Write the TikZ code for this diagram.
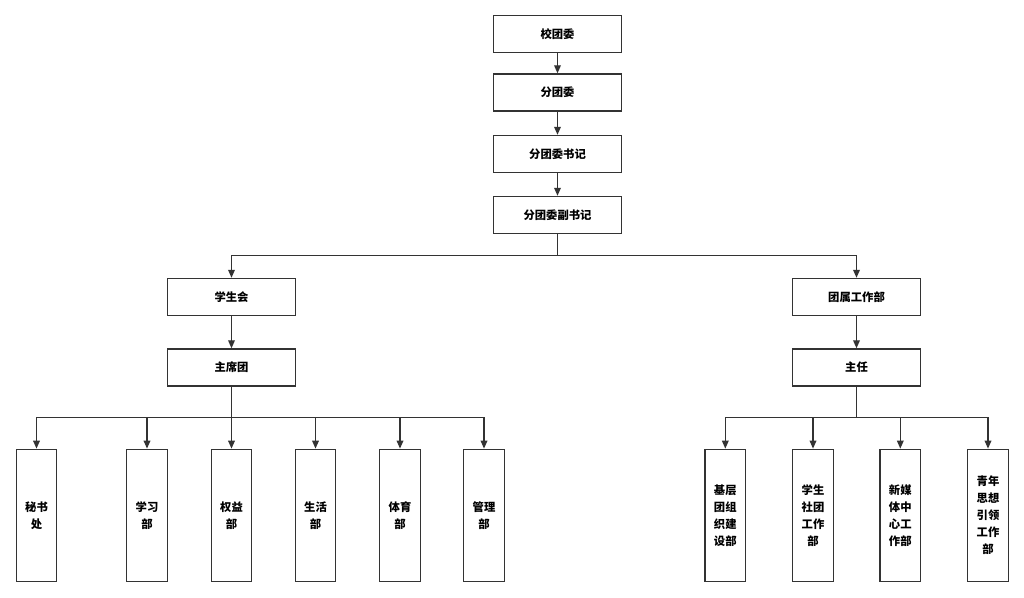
\documentclass[tikz,border=0pt]{standalone}
\usepackage{fontspec}
\setmainfont{Noto Sans CJK SC}
\usetikzlibrary{arrows.meta}

\begin{document}
\begin{tikzpicture}[x=0.75pt, y=-0.75pt,
	every node/.style = {shape=rectangle, draw=black!80, line width=1pt,
		align=center, font=\fontsize{8.5}{12.8}\selectfont\bfseries},
	wide/.style = {minimum width=96.3pt, minimum height=27.8pt},
	tall/.style = {minimum width=30.3pt, minimum height=99.3pt},
	link/.style = {draw=black!80, line width=1pt, -{Triangle[length=6pt,width=5pt]}},
	bus/.style = {draw=black!80, line width=1pt}]
	\useasboundingbox (0,0) rectangle (1024,598);

	\node[wide] (xtw) at (557.5,34.3) {校团委};
	\node[wide] (ftw) at (557.5,92.5) {分团委};
	\node[wide] (sj)  at (557.5,154) {分团委书记};
	\node[wide] (fsj) at (557.5,215) {分团委副书记};

	\node[wide] (xsh) at (231.5,297) {学生会};
	\node[wide] (zxt) at (231.5,367.5) {主席团};
	\node[wide] (tsb) at (856.5,297) {团属工作部};
	\node[wide] (zr)  at (856.5,367.5) {主任};

	\node[tall] (msc) at (36.5,515.5) {秘书\\处};
	\node[tall] (xxb) at (147,515.5) {学习\\部};
	\node[tall] (qyb) at (231.5,515.5) {权益\\部};
	\node[tall] (shb) at (315.5,515.5) {生活\\部};
	\node[tall] (tyb) at (400,515.5) {体育\\部};
	\node[tall] (glb) at (484,515.5) {管理\\部};

	\node[tall] (jcb) at (725.3,515.5) {基层\\团组\\织建\\设部};
	\node[tall] (stb) at (813,515.5) {学生\\社团\\工作\\部};
	\node[tall] (xmt) at (900.3,515.5) {新媒\\体中\\心工\\作部};
	\node[tall] (qnb) at (988,515.5) {青年\\思想\\引领\\工作\\部};

	\coordinate (top) at (557.5,255.5);
	\coordinate (left) at (231.5,417.5);
	\coordinate (right) at (856.5,417.5);

	\draw[link] (xtw) -- (ftw);
	\draw[link] (ftw) -- (sj);
	\draw[link] (sj) -- (fsj);
	\draw[bus] (fsj) -- (top);
	\draw[link] (top) -| (xsh);
	\draw[link] (top) -| (tsb);
	\draw[link] (xsh) -- (zxt);
	\draw[link] (tsb) -- (zr);

	\draw[bus] (zxt) -- (left);
	\foreach \n in {msc,xxb,qyb,shb,tyb,glb}
		\draw[link] (left) -| (\n);
	\draw[bus] (zr) -- (right);
	\foreach \n in {jcb,stb,xmt,qnb}
		\draw[link] (right) -| (\n);
\end{tikzpicture}
\end{document}
